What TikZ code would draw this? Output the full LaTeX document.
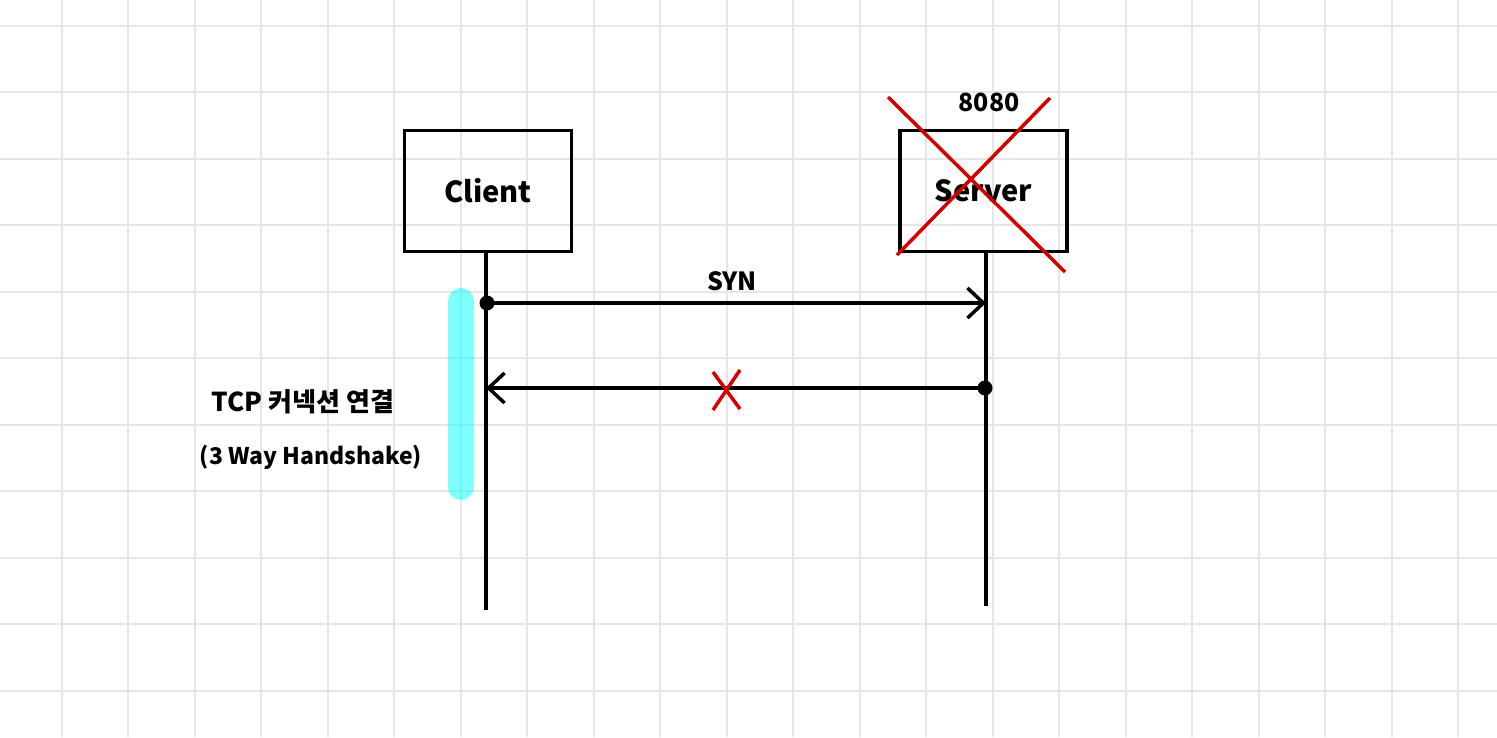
\documentclass[tikz,border=0pt]{standalone}
\usepackage{fontspec}
\setmainfont{Noto Sans CJK KR}
\usetikzlibrary{arrows.meta}
\definecolor{xred}{RGB}{212,0,0}
\definecolor{gridgray}{RGB}{230,230,230}
\definecolor{hlcyan}{RGB}{0,255,255}
\begin{document}
\begin{tikzpicture}[x=1pt,y=-1pt,
  gridline/.style={draw=gridgray, line width=2pt},
  actor/.style={draw, line width=3.5pt, minimum width=167pt, minimum height=121pt, inner sep=0pt, font=\fontsize{29}{35}\selectfont\bfseries},
  lifeline/.style={line width=3.5pt},
  msg/.style={line width=3.5pt, -{Straight Barb[length=16pt,width=30pt,line width=3.5pt]}},
  dotnode/.style={circle, fill, inner sep=0pt, minimum size=15pt},
  crossline/.style={draw=xred, line width=3.5pt},
  lbl/.style={font=\fontsize{25}{30}\selectfont\bfseries, inner sep=0pt},
  phase/.style={draw=hlcyan, opacity=0.5, line width=26pt, line cap=round},
  ]
  % canvas
  \fill[white] (0,0) rectangle (1497,737);
  \useasboundingbox (0,0) rectangle (1497,737);
  % grid
  \foreach \i in {0,...,21} \draw[gridline] (61.5+66.5*\i,0) -- (61.5+66.5*\i,737);
  \foreach \j in {0,...,10} \draw[gridline] (0,25.5+66.5*\j) -- (1497,25.5+66.5*\j);

  % actors
  \node[actor] (client) at (488,191) {Client};
  \node[actor] (server) at (983.5,191) {Server};

  % lifelines
  \coordinate (cend) at (486,610);
  \coordinate (send) at (986,606);
  \draw[lifeline] (client.south -| cend) -- (cend);
  \draw[lifeline] (server.south -| send) -- (send);

  % phase bar
  \coordinate (pa) at (461,301);
  \coordinate (pb) at (461,487);
  \draw[phase] (pa) -- (pb);

  % messages
  \node[dotnode] (syn0) at (487,303) {};
  \coordinate (syn1) at (986,303);
  \draw[msg] (syn0.center) -- (syn1);
  \node[lbl] (synlbl) at (732,281) {SYN};

  \node[dotnode] (ack0) at (985,388) {};
  \coordinate (ack1) at (486,388);
  \draw[msg] (ack0.center) -- (ack1);

  % red cross on reply
  \draw[crossline] (713,372) -- (740,409);
  \draw[crossline] (740,370) -- (713,410);

  % server crossed out
  \node[lbl] (port) at (989,102) {8080};
  \draw[crossline] (888,97) -- (1065,272);
  \draw[crossline] (897,255) -- (1050,98);

  % phase labels
  \node[lbl, font=\fontsize{26}{30}\selectfont\bfseries] (tcp) at (303,402) {TCP 커넥션 연결};
  \node[lbl, font=\fontsize{23}{28}\selectfont\bfseries] (hs) at (311,457) {(3 Way Handshake)};
\end{tikzpicture}
\end{document}
